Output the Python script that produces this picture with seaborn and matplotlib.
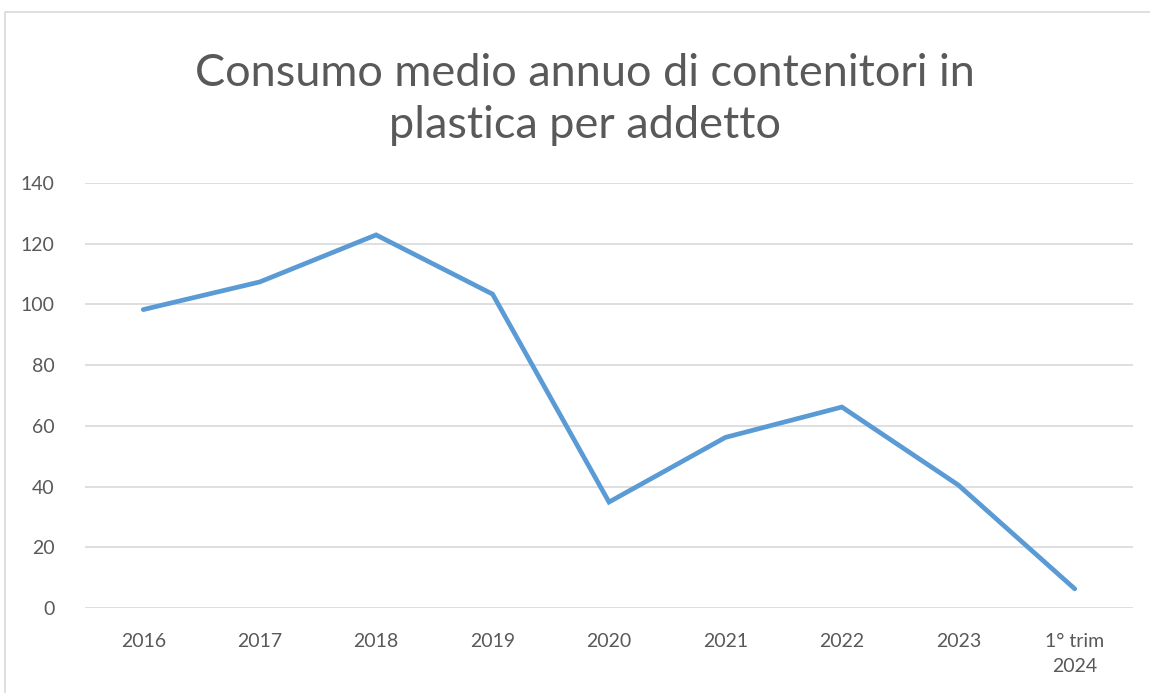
import matplotlib.pyplot as plt
import matplotlib.patches as mpatches
import seaborn as sns
import pandas as pd

sns.set_theme(style="white")
plt.rcParams['font.family'] = ['Lato', 'DejaVu Sans']

periods = ['2016', '2017', '2018', '2019', '2020', '2021', '2022', '2023', '1° trim\n2024']
consumo = [98.3, 107.4, 122.9, 103.4, 34.9, 56.2, 66.2, 40.5, 6.3]

df = pd.DataFrame({'periodo': periods, 'consumo': consumo})

fig = plt.figure(figsize=(11.5, 6.93), dpi=100)
ax = fig.add_axes([85 / 1150, 1 - 608 / 693, 1048 / 1150, 425 / 693])

sns.lineplot(data=df, x='periodo', y='consumo', sort=False, color='#5B9BD5',
             linewidth=3.4, ax=ax, solid_capstyle='round', solid_joinstyle='miter')

ax.set_xlim(-0.5, len(periods) - 0.5)
ax.set_ylim(0, 140)
ax.set_yticks(range(0, 141, 20))
ax.yaxis.grid(True, color='#D9D9D9', linewidth=1.2)
ax.set_axisbelow(True)
for s in ax.spines.values():
    s.set_visible(False)
ax.set_xlabel('')
ax.set_ylabel('')
ax.tick_params(axis='both', colors='#595959', labelsize=14, length=0)
ax.tick_params(axis='x', pad=18)
ax.tick_params(axis='y', pad=22)
for lab in ax.get_xticklabels():
    lab.set_linespacing(1.6)

# titolo su due righe
fig.text(0.509, 1 - 73 / 693, 'Consumo medio annuo di contenitori in',
         ha='center', va='center', fontsize=32.5, color='#595959')
fig.text(0.509, 1 - 125 / 693, 'plastica per addetto',
         ha='center', va='center', fontsize=32.5, color='#595959')

# bordo del grafico
fig.patches.append(mpatches.Rectangle((5 / 1150, -0.1), 1.2, 1 - 12 / 693 + 0.1,
                                      transform=fig.transFigure, fill=False,
                                      edgecolor='#D9D9D9', linewidth=1.2))

fig.savefig('out.png', dpi=100)
